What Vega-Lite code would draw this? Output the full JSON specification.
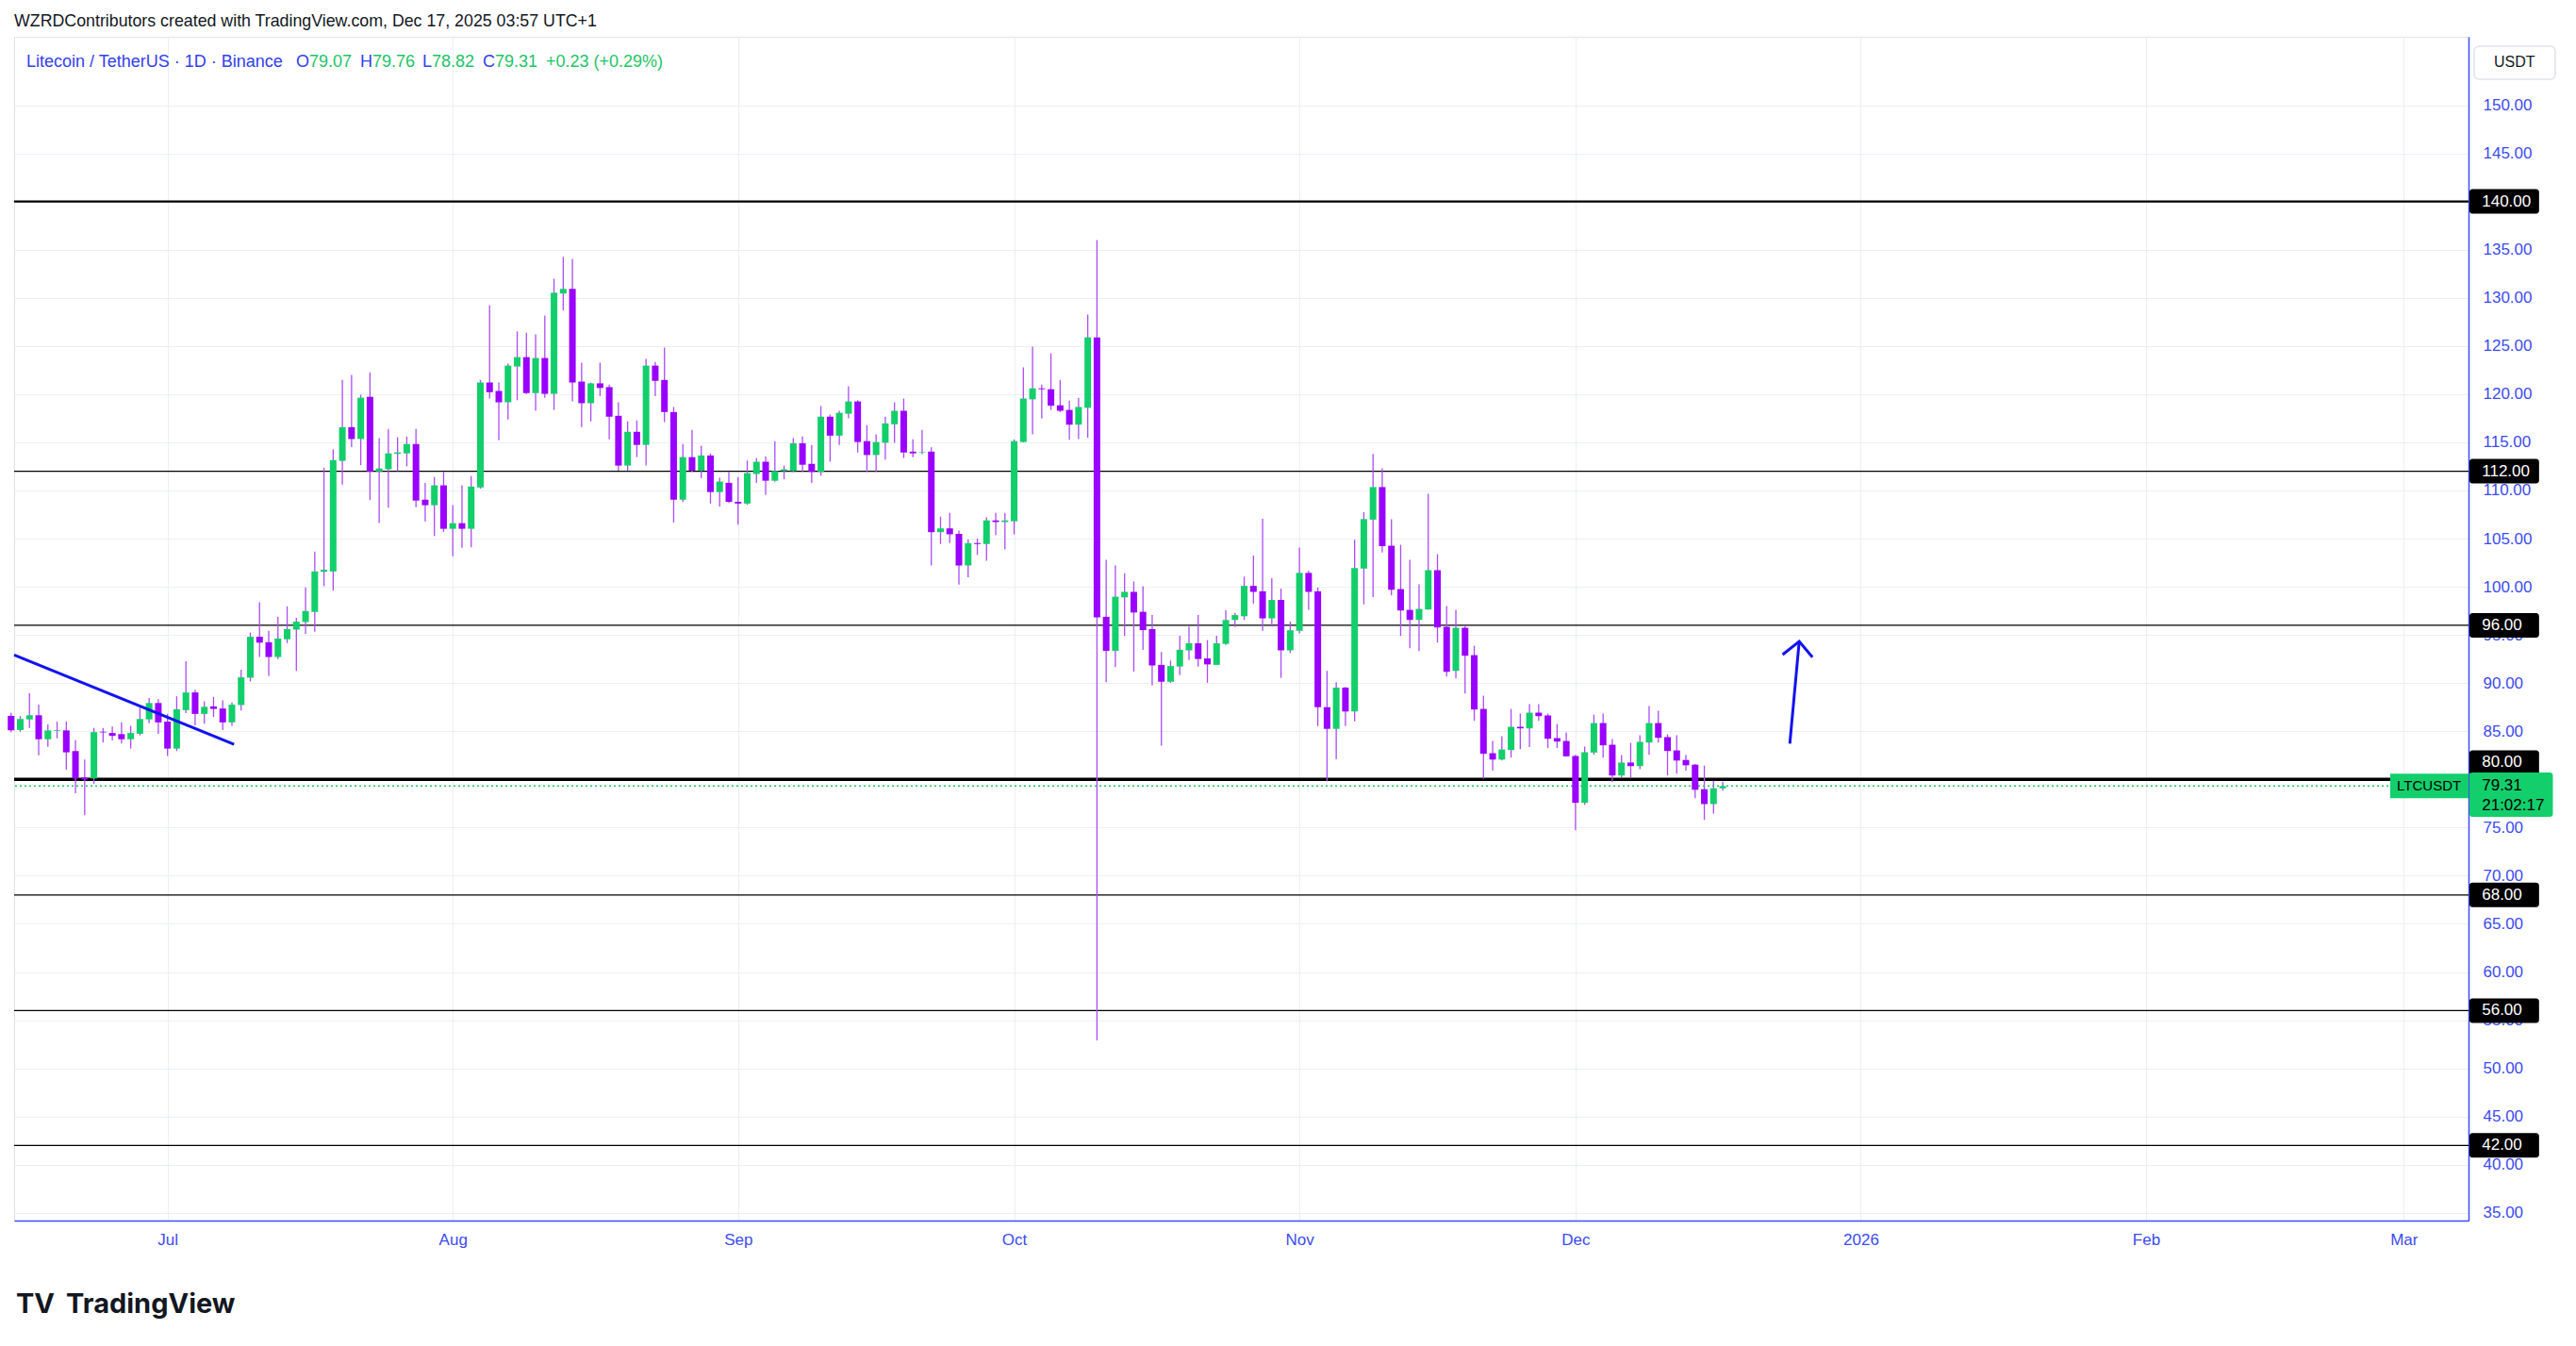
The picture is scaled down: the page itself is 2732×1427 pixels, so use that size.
{
  "$schema": "https://vega.github.io/schema/vega-lite/v6.json",
  "width": 2603,
  "height": 1255,
  "autosize": {"type": "none"},
  "padding": {"left": 15, "top": 39, "right": 114, "bottom": 133},
  "background": "#ffffff",
  "title": {"text": "WZRDContributors created with TradingView.com, Dec 17, 2025 03:57 UTC+1", "anchor": "start", "frame": "group", "offset": 7, "font": "Liberation Sans", "fontSize": 17.8, "fontWeight": "normal", "color": "#131722"},
  "config": {
    "view": {"stroke": "#E0E3EB"},
    "axis": {"labelFont": "Liberation Sans", "labelFontSize": 17, "labelColor": "#3C4BF2", "domainColor": "#3C4BF2", "domainWidth": 1.5, "gridColor": "#EBEFF4", "gridWidth": 1, "ticks": false, "tickSize": 0, "labelOverlap": false, "labelFlush": false},
    "text": {"font": "Liberation Sans"}
  },
  "datasets": {
    "candles": [
      {"d":"2025-06-14","o":86.6,"h":86.9,"l":84.9,"c":85.1},
      {"d":"2025-06-15","o":85.13,"h":86.58,"l":84.96,"c":86.27},
      {"d":"2025-06-16","o":86.23,"h":88.94,"l":85.35,"c":86.66},
      {"d":"2025-06-17","o":86.66,"h":87.76,"l":82.5,"c":84.17},
      {"d":"2025-06-18","o":84.17,"h":85.7,"l":83.38,"c":85.09},
      {"d":"2025-06-19","o":85.05,"h":86.0,"l":84.26,"c":85.12},
      {"d":"2025-06-20","o":85.09,"h":86.0,"l":81.02,"c":82.81},
      {"d":"2025-06-21","o":82.94,"h":84.08,"l":78.56,"c":80.1},
      {"d":"2025-06-22","o":80.2,"h":82.07,"l":76.29,"c":80.0},
      {"d":"2025-06-23","o":80.1,"h":85.35,"l":79.53,"c":84.91},
      {"d":"2025-06-24","o":84.95,"h":85.35,"l":83.86,"c":84.88},
      {"d":"2025-06-25","o":84.82,"h":85.48,"l":84.04,"c":84.52},
      {"d":"2025-06-26","o":84.7,"h":85.92,"l":83.73,"c":84.17},
      {"d":"2025-06-27","o":84.17,"h":85.57,"l":83.2,"c":84.82},
      {"d":"2025-06-28","o":84.74,"h":87.45,"l":84.56,"c":86.27},
      {"d":"2025-06-29","o":86.23,"h":88.46,"l":85.83,"c":87.93},
      {"d":"2025-06-30","o":87.93,"h":88.33,"l":84.74,"c":85.92},
      {"d":"2025-07-01","o":86.0,"h":86.8,"l":82.42,"c":83.2},
      {"d":"2025-07-02","o":83.2,"h":88.63,"l":82.94,"c":87.28},
      {"d":"2025-07-03","o":87.19,"h":92.27,"l":86.88,"c":89.03},
      {"d":"2025-07-04","o":89.03,"h":89.3,"l":85.61,"c":86.8},
      {"d":"2025-07-05","o":86.8,"h":88.11,"l":85.79,"c":87.54},
      {"d":"2025-07-06","o":87.58,"h":88.55,"l":86.49,"c":87.32},
      {"d":"2025-07-07","o":87.36,"h":88.2,"l":85.13,"c":85.92},
      {"d":"2025-07-08","o":85.92,"h":87.98,"l":85.57,"c":87.76},
      {"d":"2025-07-09","o":87.72,"h":91.39,"l":87.15,"c":90.6},
      {"d":"2025-07-10","o":90.56,"h":95.25,"l":90.17,"c":94.81},
      {"d":"2025-07-11","o":94.81,"h":98.4,"l":92.71,"c":94.2},
      {"d":"2025-07-12","o":94.24,"h":95.42,"l":90.74,"c":92.71},
      {"d":"2025-07-13","o":92.71,"h":96.87,"l":92.49,"c":94.63},
      {"d":"2025-07-14","o":94.55,"h":97.96,"l":94.15,"c":95.6},
      {"d":"2025-07-15","o":95.55,"h":96.78,"l":91.26,"c":96.38},
      {"d":"2025-07-16","o":96.34,"h":99.93,"l":95.11,"c":97.48},
      {"d":"2025-07-17","o":97.39,"h":103.65,"l":95.33,"c":101.59},
      {"d":"2025-07-18","o":101.55,"h":112.36,"l":100.06,"c":101.77},
      {"d":"2025-07-19","o":101.59,"h":114.25,"l":99.62,"c":113.15},
      {"d":"2025-07-20","o":113.07,"h":121.47,"l":110.61,"c":116.57},
      {"d":"2025-07-21","o":116.57,"h":122.0,"l":114.51,"c":115.34},
      {"d":"2025-07-22","o":115.34,"h":119.94,"l":112.63,"c":119.63},
      {"d":"2025-07-23","o":119.72,"h":122.26,"l":109.0,"c":111.97},
      {"d":"2025-07-24","o":111.97,"h":115.43,"l":106.63,"c":112.28},
      {"d":"2025-07-25","o":112.2,"h":116.39,"l":108.2,"c":113.85},
      {"d":"2025-07-26","o":113.8,"h":115.52,"l":112.0,"c":113.95},
      {"d":"2025-07-27","o":113.85,"h":115.6,"l":112.5,"c":114.82},
      {"d":"2025-07-28","o":114.82,"h":116.39,"l":108.25,"c":108.95},
      {"d":"2025-07-29","o":109.04,"h":110.79,"l":106.8,"c":108.47},
      {"d":"2025-07-30","o":108.47,"h":111.4,"l":105.27,"c":110.53},
      {"d":"2025-07-31","o":110.53,"h":111.93,"l":105.7,"c":106.02},
      {"d":"2025-08-01","o":106.02,"h":108.47,"l":103.17,"c":106.6},
      {"d":"2025-08-02","o":106.6,"h":110.53,"l":104.05,"c":106.02},
      {"d":"2025-08-03","o":106.02,"h":111.49,"l":104.1,"c":110.4},
      {"d":"2025-08-04","o":110.31,"h":121.47,"l":110.18,"c":121.21},
      {"d":"2025-08-05","o":121.21,"h":129.22,"l":119.54,"c":120.2},
      {"d":"2025-08-06","o":120.33,"h":121.21,"l":115.21,"c":119.15},
      {"d":"2025-08-07","o":119.15,"h":123.18,"l":117.36,"c":122.96},
      {"d":"2025-08-08","o":122.87,"h":126.51,"l":119.37,"c":123.84},
      {"d":"2025-08-09","o":123.84,"h":126.38,"l":120.0,"c":120.11},
      {"d":"2025-08-10","o":120.11,"h":126.2,"l":118.27,"c":123.75},
      {"d":"2025-08-11","o":123.75,"h":128.17,"l":119.63,"c":120.03},
      {"d":"2025-08-12","o":120.03,"h":131.98,"l":118.36,"c":130.53},
      {"d":"2025-08-13","o":130.45,"h":134.26,"l":128.7,"c":130.93},
      {"d":"2025-08-14","o":130.93,"h":134.04,"l":119.24,"c":121.21},
      {"d":"2025-08-15","o":121.3,"h":123.27,"l":116.57,"c":119.06},
      {"d":"2025-08-16","o":119.06,"h":121.2,"l":117.18,"c":121.12},
      {"d":"2025-08-17","o":121.12,"h":123.27,"l":119.8,"c":120.64},
      {"d":"2025-08-18","o":120.73,"h":120.99,"l":115.3,"c":117.66},
      {"d":"2025-08-19","o":117.75,"h":119.15,"l":112.06,"c":112.58},
      {"d":"2025-08-20","o":112.58,"h":117.18,"l":112.06,"c":116.09},
      {"d":"2025-08-21","o":116.09,"h":117.27,"l":113.46,"c":114.73},
      {"d":"2025-08-22","o":114.73,"h":123.66,"l":112.58,"c":122.96},
      {"d":"2025-08-23","o":122.96,"h":123.35,"l":119.8,"c":121.38},
      {"d":"2025-08-24","o":121.47,"h":124.84,"l":117.09,"c":118.14},
      {"d":"2025-08-25","o":118.14,"h":118.67,"l":106.67,"c":109.04},
      {"d":"2025-08-26","o":109.04,"h":114.82,"l":108.82,"c":113.46},
      {"d":"2025-08-27","o":113.46,"h":116.3,"l":111.93,"c":112.06},
      {"d":"2025-08-28","o":112.06,"h":114.64,"l":111.28,"c":113.63},
      {"d":"2025-08-29","o":113.63,"h":113.85,"l":108.64,"c":109.83},
      {"d":"2025-08-30","o":109.83,"h":111.31,"l":108.33,"c":110.92},
      {"d":"2025-08-31","o":110.79,"h":111.93,"l":108.69,"c":108.82},
      {"d":"2025-09-01","o":108.82,"h":111.4,"l":106.45,"c":108.64},
      {"d":"2025-09-02","o":108.64,"h":113.11,"l":108.51,"c":111.8},
      {"d":"2025-09-03","o":111.71,"h":113.37,"l":110.79,"c":112.98},
      {"d":"2025-09-04","o":112.98,"h":113.55,"l":109.52,"c":111.01},
      {"d":"2025-09-05","o":111.01,"h":115.12,"l":110.9,"c":112.02},
      {"d":"2025-09-06","o":112.02,"h":112.58,"l":111.18,"c":112.19},
      {"d":"2025-09-07","o":112.02,"h":115.43,"l":111.9,"c":114.9},
      {"d":"2025-09-08","o":114.9,"h":115.6,"l":111.93,"c":112.67},
      {"d":"2025-09-09","o":112.76,"h":114.73,"l":110.79,"c":111.93},
      {"d":"2025-09-10","o":111.93,"h":118.76,"l":111.53,"c":117.66},
      {"d":"2025-09-11","o":117.66,"h":117.88,"l":112.98,"c":115.69},
      {"d":"2025-09-12","o":115.69,"h":118.27,"l":114.73,"c":118.06},
      {"d":"2025-09-13","o":117.97,"h":120.81,"l":117.49,"c":119.24},
      {"d":"2025-09-14","o":119.24,"h":119.37,"l":113.94,"c":115.03},
      {"d":"2025-09-15","o":115.12,"h":116.79,"l":111.93,"c":113.68},
      {"d":"2025-09-16","o":113.68,"h":115.82,"l":111.93,"c":115.03},
      {"d":"2025-09-17","o":114.95,"h":117.66,"l":113.2,"c":116.96},
      {"d":"2025-09-18","o":116.87,"h":119.15,"l":114.95,"c":118.27},
      {"d":"2025-09-19","o":118.27,"h":119.54,"l":113.37,"c":113.94},
      {"d":"2025-09-20","o":114.03,"h":115.3,"l":113.46,"c":113.85},
      {"d":"2025-09-21","o":113.94,"h":116.3,"l":113.77,"c":114.0},
      {"d":"2025-09-22","o":114.03,"h":114.47,"l":102.21,"c":105.67},
      {"d":"2025-09-23","o":105.67,"h":107.29,"l":104.44,"c":106.06},
      {"d":"2025-09-24","o":106.06,"h":107.68,"l":104.53,"c":105.45},
      {"d":"2025-09-25","o":105.49,"h":105.84,"l":100.24,"c":102.21},
      {"d":"2025-09-26","o":102.21,"h":104.92,"l":100.98,"c":104.53},
      {"d":"2025-09-27","o":104.53,"h":105.01,"l":103.3,"c":104.44},
      {"d":"2025-09-28","o":104.44,"h":107.2,"l":102.69,"c":106.89},
      {"d":"2025-09-29","o":106.89,"h":107.68,"l":105.36,"c":106.72},
      {"d":"2025-09-30","o":106.72,"h":107.68,"l":103.87,"c":106.89},
      {"d":"2025-10-01","o":106.8,"h":115.3,"l":105.45,"c":115.12},
      {"d":"2025-10-02","o":115.03,"h":122.78,"l":115.0,"c":119.54},
      {"d":"2025-10-03","o":119.46,"h":124.93,"l":115.82,"c":120.6},
      {"d":"2025-10-04","o":120.6,"h":120.99,"l":117.49,"c":120.51},
      {"d":"2025-10-05","o":120.51,"h":124.23,"l":118.36,"c":118.8},
      {"d":"2025-10-06","o":118.84,"h":121.47,"l":118.14,"c":118.27},
      {"d":"2025-10-07","o":118.36,"h":119.33,"l":115.25,"c":116.83},
      {"d":"2025-10-08","o":116.83,"h":119.63,"l":115.34,"c":118.67},
      {"d":"2025-10-09","o":118.58,"h":128.26,"l":115.47,"c":125.89},
      {"d":"2025-10-10","o":125.89,"h":136.0,"l":52.9,"c":96.82},
      {"d":"2025-10-11","o":96.88,"h":102.8,"l":90.1,"c":93.35},
      {"d":"2025-10-12","o":93.35,"h":102.2,"l":91.65,"c":98.97},
      {"d":"2025-10-13","o":98.9,"h":101.4,"l":94.9,"c":99.47},
      {"d":"2025-10-14","o":99.47,"h":100.55,"l":91.2,"c":97.33},
      {"d":"2025-10-15","o":97.4,"h":100.05,"l":93.45,"c":95.5},
      {"d":"2025-10-16","o":95.6,"h":97.06,"l":89.75,"c":91.83},
      {"d":"2025-10-17","o":91.89,"h":93.23,"l":83.51,"c":90.14},
      {"d":"2025-10-18","o":90.14,"h":92.34,"l":90.03,"c":91.77},
      {"d":"2025-10-19","o":91.72,"h":94.92,"l":90.82,"c":93.46},
      {"d":"2025-10-20","o":93.4,"h":95.88,"l":92.39,"c":94.13},
      {"d":"2025-10-21","o":94.13,"h":97.06,"l":91.72,"c":92.5},
      {"d":"2025-10-22","o":92.56,"h":94.47,"l":90.03,"c":91.94},
      {"d":"2025-10-23","o":91.89,"h":94.92,"l":91.89,"c":94.13},
      {"d":"2025-10-24","o":94.07,"h":97.56,"l":93.96,"c":96.55},
      {"d":"2025-10-25","o":96.55,"h":97.28,"l":95.82,"c":97.06},
      {"d":"2025-10-26","o":96.94,"h":101.05,"l":96.55,"c":100.09},
      {"d":"2025-10-27","o":100.09,"h":103.24,"l":98.24,"c":99.47},
      {"d":"2025-10-28","o":99.53,"h":107.06,"l":95.43,"c":96.72},
      {"d":"2025-10-29","o":96.72,"h":100.88,"l":95.88,"c":98.63},
      {"d":"2025-10-30","o":98.63,"h":99.81,"l":90.54,"c":93.4},
      {"d":"2025-10-31","o":93.4,"h":96.38,"l":93.12,"c":95.48},
      {"d":"2025-11-01","o":95.43,"h":104.08,"l":95.15,"c":101.44},
      {"d":"2025-11-02","o":101.44,"h":101.67,"l":97.62,"c":99.47},
      {"d":"2025-11-03","o":99.53,"h":99.92,"l":85.53,"c":87.5},
      {"d":"2025-11-04","o":87.5,"h":91.27,"l":79.8,"c":85.25},
      {"d":"2025-11-05","o":85.25,"h":90.09,"l":82.1,"c":89.53},
      {"d":"2025-11-06","o":89.53,"h":89.6,"l":85.53,"c":87.05},
      {"d":"2025-11-07","o":87.05,"h":104.87,"l":86.04,"c":101.95},
      {"d":"2025-11-08","o":101.89,"h":107.74,"l":98.18,"c":107.03},
      {"d":"2025-11-09","o":106.97,"h":113.78,"l":98.94,"c":110.35},
      {"d":"2025-11-10","o":110.35,"h":112.3,"l":103.55,"c":104.22},
      {"d":"2025-11-11","o":104.26,"h":107.0,"l":99.11,"c":99.69},
      {"d":"2025-11-12","o":99.76,"h":104.36,"l":94.9,"c":97.54},
      {"d":"2025-11-13","o":97.6,"h":102.79,"l":93.62,"c":96.56},
      {"d":"2025-11-14","o":96.56,"h":100.25,"l":93.33,"c":97.7},
      {"d":"2025-11-15","o":97.64,"h":109.65,"l":97.64,"c":101.72},
      {"d":"2025-11-16","o":101.72,"h":103.38,"l":94.21,"c":95.78},
      {"d":"2025-11-17","o":95.84,"h":97.99,"l":90.68,"c":91.17},
      {"d":"2025-11-18","o":91.27,"h":97.6,"l":90.48,"c":95.74},
      {"d":"2025-11-19","o":95.74,"h":95.97,"l":88.92,"c":92.84},
      {"d":"2025-11-20","o":92.9,"h":93.88,"l":86.08,"c":87.26},
      {"d":"2025-11-21","o":87.32,"h":88.69,"l":80.08,"c":82.66},
      {"d":"2025-11-22","o":82.72,"h":84.0,"l":80.9,"c":82.06},
      {"d":"2025-11-23","o":82.06,"h":84.49,"l":81.96,"c":83.11},
      {"d":"2025-11-24","o":83.05,"h":87.32,"l":82.27,"c":85.46},
      {"d":"2025-11-25","o":85.46,"h":86.83,"l":83.15,"c":85.3},
      {"d":"2025-11-26","o":85.3,"h":87.82,"l":83.35,"c":86.93},
      {"d":"2025-11-27","o":86.93,"h":87.82,"l":86.08,"c":86.57},
      {"d":"2025-11-28","o":86.64,"h":86.83,"l":83.25,"c":84.22},
      {"d":"2025-11-29","o":84.29,"h":85.76,"l":83.25,"c":83.93},
      {"d":"2025-11-30","o":83.99,"h":84.87,"l":82.36,"c":82.4},
      {"d":"2025-12-01","o":82.43,"h":82.56,"l":74.73,"c":77.57},
      {"d":"2025-12-02","o":77.57,"h":83.41,"l":77.37,"c":82.82},
      {"d":"2025-12-03","o":82.79,"h":86.73,"l":82.56,"c":85.85},
      {"d":"2025-12-04","o":85.85,"h":86.83,"l":82.27,"c":83.54},
      {"d":"2025-12-05","o":83.6,"h":84.19,"l":79.73,"c":80.41},
      {"d":"2025-12-06","o":80.41,"h":82.53,"l":80.18,"c":81.75},
      {"d":"2025-12-07","o":81.75,"h":83.8,"l":80.18,"c":81.38},
      {"d":"2025-12-08","o":81.38,"h":84.58,"l":81.05,"c":83.9},
      {"d":"2025-12-09","o":83.83,"h":87.61,"l":82.56,"c":85.85},
      {"d":"2025-12-10","o":85.85,"h":87.12,"l":83.83,"c":84.32},
      {"d":"2025-12-11","o":84.39,"h":84.68,"l":80.41,"c":82.95},
      {"d":"2025-12-12","o":83.01,"h":84.58,"l":80.6,"c":81.96},
      {"d":"2025-12-13","o":82.02,"h":82.56,"l":80.9,"c":81.47},
      {"d":"2025-12-14","o":81.53,"h":81.6,"l":78.04,"c":78.92},
      {"d":"2025-12-15","o":78.98,"h":81.43,"l":75.8,"c":77.44},
      {"d":"2025-12-16","o":77.44,"h":79.86,"l":76.46,"c":79.08},
      {"d":"2025-12-17","o":79.07,"h":79.76,"l":78.82,"c":79.31}
    ],
    "levels": [
      {"level":140,"lp":140},
      {"level":112,"lp":112},
      {"level":96,"lp":96},
      {"level":80,"lp":81.75},
      {"level":68,"lp":68},
      {"level":56,"lp":56},
      {"level":42,"lp":42}
    ]
  },
  "layer": [
    {
      "data": {"name": "levels"},
      "mark": {"type": "rule", "color": "#000000"},
      "encoding": {
        "y": {"field": "level", "type": "quantitative", "title": null,
              "scale": {"domain": [34.2, 157.1], "nice": false, "zero": false, "padding": 0},
              "axis": {"orient": "right", "values": [35,40,45,50,55,60,65,70,75,85,90,95,100,105,110,115,120,125,130,135,145,150], "format": ".2f", "labelPadding": 15, "labelAlign": "left", "labelBaseline": "middle", "grid": true}},
        "strokeWidth": {"condition": [{"test": "datum.level == 80", "value": 3.5}, {"test": "datum.level == 140", "value": 2.2}], "value": 1.3}
      }
    },
    {
      "data": {"name": "candles"},
      "mark": {"type": "rule", "color": "#AC4CF4", "strokeWidth": 1.3},
      "encoding": {
        "x": {"field": "d", "type": "temporal", "title": null,
              "scale": {"type": "utc", "domain": [{"year": 2025, "month": 6, "date": 14, "hours": 8, "utc": true}, {"year": 2026, "month": 3, "date": 8, "hours": 1, "utc": true}], "nice": false, "padding": 0},
              "axis": {"orient": "bottom", "grid": true, "labelPadding": 12,
                       "values": [{"year":2025,"month":7,"date":1,"utc":true},{"year":2025,"month":8,"date":1,"utc":true},{"year":2025,"month":9,"date":1,"utc":true},{"year":2025,"month":10,"date":1,"utc":true},{"year":2025,"month":11,"date":1,"utc":true},{"year":2025,"month":12,"date":1,"utc":true},{"year":2026,"month":1,"date":1,"utc":true},{"year":2026,"month":2,"date":1,"utc":true},{"year":2026,"month":3,"date":1,"utc":true}],
                       "labelExpr": "utcmonth(datum.value) == 0 ? utcFormat(datum.value, '%Y') : utcFormat(datum.value, '%b')"}},
        "y": {"field": "l", "type": "quantitative", "title": null},
        "y2": {"field": "h"}
      }
    },
    {
      "data": {"values": [{"p": 79.31}]},
      "mark": {"type": "rule", "color": "#22C55E", "strokeWidth": 1.5, "strokeDash": [2, 3]},
      "encoding": {"y": {"field": "p", "type": "quantitative", "title": null}}
    },
    {
      "data": {"name": "candles"},
      "mark": {"type": "bar", "width": 7},
      "encoding": {
        "x": {"field": "d", "type": "temporal", "title": null},
        "y": {"field": "o", "type": "quantitative", "title": null},
        "y2": {"field": "c"},
        "color": {"condition": {"test": "datum.c >= datum.o", "value": "#12CF6B"}, "value": "#9900FF"}
      }
    },
    {
      "data": {"values": [
        {"t": "2025-06-14T08:00:00Z", "p": 92.93},
        {"t": "2025-07-08T05:30:00Z", "p": 83.64}
      ]},
      "mark": {"type": "line", "color": "#1212F2", "strokeWidth": 3},
      "encoding": {
        "x": {"field": "t", "type": "temporal", "title": null},
        "y": {"field": "p", "type": "quantitative", "title": null}
      }
    },
    {
      "data": {"values": [
        {"t": "2025-12-24T07:00:00Z", "p": 83.72, "s": "shaft", "k": 0},
        {"t": "2025-12-25T07:30:00Z", "p": 94.33, "s": "shaft", "k": 1},
        {"t": "2025-12-23T12:15:00Z", "p": 92.96, "s": "head", "k": 0},
        {"t": "2025-12-25T07:30:00Z", "p": 94.33, "s": "head", "k": 1},
        {"t": "2025-12-26T18:00:00Z", "p": 92.69, "s": "head", "k": 2}
      ]},
      "mark": {"type": "line", "color": "#1212F2", "strokeWidth": 3},
      "encoding": {
        "x": {"field": "t", "type": "temporal", "title": null},
        "y": {"field": "p", "type": "quantitative", "title": null},
        "detail": {"field": "s"},
        "order": {"field": "k"}
      }
    },
    {
      "mark": {"type": "rule", "color": "#E0E3EB", "strokeWidth": 1.5},
      "encoding": {
        "x": {"datum": {"year": 2026, "month": 3, "date": 18, "hours": 1, "minutes": 40, "utc": true}, "type": "temporal"},
        "y": {"datum": 157.1, "type": "quantitative"},
        "y2": {"datum": 30.0}
      }
    },
    {
      "mark": {"type": "rule", "color": "#E0E3EB", "strokeWidth": 1.5},
      "encoding": {
        "x": {"datum": {"year": 2025, "month": 6, "date": 14, "hours": 8, "utc": true}, "type": "temporal"},
        "y": {"datum": 34.2, "type": "quantitative"},
        "y2": {"datum": 30.0}
      }
    },
    {
      "mark": {"type": "rule", "color": "#E0E3EB", "strokeWidth": 1.5},
      "encoding": {
        "x": {"datum": {"year": 2025, "month": 6, "date": 14, "hours": 8, "utc": true}, "type": "temporal"},
        "x2": {"datum": {"year": 2026, "month": 3, "date": 18, "hours": 1, "minutes": 40, "utc": true}},
        "y": {"datum": 30.0, "type": "quantitative"}
      }
    },
    {
      "mark": {"type": "rule", "color": "#E0E3EB", "strokeWidth": 1},
      "encoding": {
        "x": {"datum": {"year": 2026, "month": 3, "date": 8, "hours": 1, "utc": true}, "type": "temporal"},
        "x2": {"datum": {"year": 2026, "month": 3, "date": 18, "hours": 1, "minutes": 40, "utc": true}},
        "y": {"datum": 157.1, "type": "quantitative"}
      }
    },
    {
      "data": {"name": "levels"},
      "mark": {"type": "bar", "orient": "horizontal", "height": 26, "color": "#000000", "cornerRadius": 3},
      "encoding": {
        "x": {"datum": {"year": 2026, "month": 3, "date": 8, "hours": 3, "minutes": 20, "utc": true}, "type": "temporal"},
        "x2": {"datum": {"year": 2026, "month": 3, "date": 15, "hours": 17, "utc": true}},
        "y": {"field": "lp", "type": "quantitative", "title": null}
      }
    },
    {
      "data": {"name": "levels"},
      "mark": {"type": "text", "align": "left", "baseline": "middle", "color": "#ffffff", "fontSize": 17},
      "encoding": {
        "x": {"datum": {"year": 2026, "month": 3, "date": 9, "hours": 12, "utc": true}, "type": "temporal"},
        "y": {"field": "lp", "type": "quantitative", "title": null},
        "text": {"field": "level", "type": "quantitative", "format": ".2f"}
      }
    },
    {
      "data": {"values": [{"p": 78.42}]},
      "mark": {"type": "bar", "orient": "horizontal", "height": 47, "color": "#12CF6B", "cornerRadius": 3},
      "encoding": {
        "x": {"datum": {"year": 2026, "month": 3, "date": 8, "hours": 3, "minutes": 20, "utc": true}, "type": "temporal"},
        "x2": {"datum": {"year": 2026, "month": 3, "date": 17, "hours": 5, "utc": true}},
        "y": {"field": "p", "type": "quantitative", "title": null}
      }
    },
    {
      "data": {"values": [{"p": 79.31}]},
      "mark": {"type": "bar", "orient": "horizontal", "height": 26, "color": "#12CF6B"},
      "encoding": {
        "x": {"datum": {"year": 2026, "month": 2, "date": 27, "hours": 12, "minutes": 45, "utc": true}, "type": "temporal"},
        "x2": {"datum": {"year": 2026, "month": 3, "date": 8, "hours": 1, "utc": true}},
        "y": {"field": "p", "type": "quantitative", "title": null}
      }
    },
    {
      "data": {"values": [
        {"txt": "79.31", "p": 79.35},
        {"txt": "21:02:17", "p": 77.29}
      ]},
      "mark": {"type": "text", "align": "left", "baseline": "middle", "color": "#000000", "fontSize": 17},
      "encoding": {
        "x": {"datum": {"year": 2026, "month": 3, "date": 9, "hours": 12, "utc": true}, "type": "temporal"},
        "y": {"field": "p", "type": "quantitative", "title": null},
        "text": {"field": "txt"}
      }
    },
    {
      "data": {"values": [{"txt": "LTCUSDT", "p": 79.31}]},
      "mark": {"type": "text", "align": "center", "baseline": "middle", "color": "#000000", "fontSize": 15},
      "encoding": {
        "x": {"datum": {"year": 2026, "month": 3, "date": 3, "hours": 18, "utc": true}, "type": "temporal"},
        "y": {"field": "p", "type": "quantitative", "title": null},
        "text": {"field": "txt"}
      }
    },
    {
      "data": {"values": [{"p": 154.41}]},
      "mark": {"type": "bar", "orient": "horizontal", "height": 35, "fill": "#ffffff", "stroke": "#E0E3EB", "strokeWidth": 1.5, "cornerRadius": 5},
      "encoding": {
        "x": {"datum": {"year": 2026, "month": 3, "date": 8, "hours": 15, "minutes": 40, "utc": true}, "type": "temporal"},
        "x2": {"datum": {"year": 2026, "month": 3, "date": 17, "hours": 11, "utc": true}},
        "y": {"field": "p", "type": "quantitative", "title": null}
      }
    },
    {
      "data": {"values": [{"txt": "USDT", "p": 154.41}]},
      "mark": {"type": "text", "align": "center", "baseline": "middle", "color": "#131722", "fontSize": 16},
      "encoding": {
        "x": {"datum": {"year": 2026, "month": 3, "date": 13, "hours": 1, "utc": true}, "type": "temporal"},
        "y": {"field": "p", "type": "quantitative", "title": null},
        "text": {"field": "txt"}
      }
    },
    {
      "data": {"values": [
        {"txt": "79.07", "t": "2025-07-16T09:35:00Z", "p": 154.5},
        {"txt": "79.76", "t": "2025-07-23T06:15:00Z", "p": 154.5},
        {"txt": "78.82", "t": "2025-07-29T17:15:00Z", "p": 154.5},
        {"txt": "79.31", "t": "2025-08-05T14:00:00Z", "p": 154.5},
        {"txt": "+0.23 (+0.29%)", "t": "2025-08-11T02:40:00Z", "p": 154.5}
      ]},
      "mark": {"type": "text", "align": "left", "baseline": "middle", "color": "#1DC468", "fontSize": 18},
      "encoding": {
        "x": {"field": "t", "type": "temporal", "title": null},
        "y": {"field": "p", "type": "quantitative", "title": null},
        "text": {"field": "txt"}
      }
    },
    {
      "data": {"values": [
        {"txt": "Litecoin / TetherUS · 1D · Binance", "t": "2025-06-15T16:00:00Z", "p": 154.5},
        {"txt": "O", "t": "2025-07-14T23:10:00Z", "p": 154.5},
        {"txt": "H", "t": "2025-07-21T22:20:00Z", "p": 154.5},
        {"txt": "L", "t": "2025-07-28T16:35:00Z", "p": 154.5},
        {"txt": "C", "t": "2025-08-04T06:00:00Z", "p": 154.5}
      ]},
      "mark": {"type": "text", "align": "left", "baseline": "middle", "color": "#3340F0", "fontSize": 18},
      "encoding": {
        "x": {"field": "t", "type": "temporal", "title": null},
        "y": {"field": "p", "type": "quantitative", "title": null},
        "text": {"field": "txt"}
      }
    },
    {
      "data": {"values": [
        {"txt": "TV", "t": "2025-06-14T12:45:00Z", "p": 25.5},
        {"txt": "TradingView", "t": "2025-06-19T23:15:00Z", "p": 25.5}
      ]},
      "mark": {"type": "text", "align": "left", "baseline": "middle", "color": "#131722", "fontSize": 29, "font": "Inter", "fontWeight": 700},
      "encoding": {
        "x": {"field": "t", "type": "temporal", "title": null},
        "y": {"field": "p", "type": "quantitative", "title": null},
        "text": {"field": "txt"}
      }
    }
  ]
}
